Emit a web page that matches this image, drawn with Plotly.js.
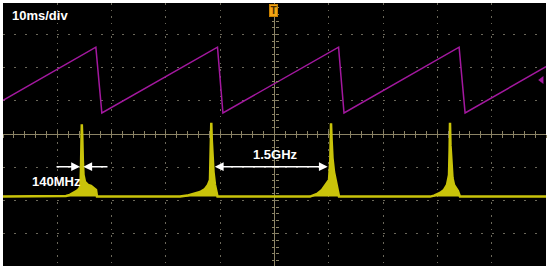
<!DOCTYPE html>
<html>
<head>
<meta charset="utf-8">
<script src="https://cdn.plot.ly/plotly-3.0.1.min.js"></script>
<style>
  html, body { margin: 0; padding: 0; background: #ffffff; }
  #plot { width: 550px; height: 271px; }
</style>
</head>
<body>
<div id="plot"></div>
<script>
// Channel 1 (magenta): sawtooth sweep, time in ms, level in divisions
const sweepTime = [-50, -32.9, -31.8, -10.5, -9.5, 11.8, 12.8, 34.0, 35.1, 50];
const sweepLevel = [1.02, 2.62, 0.64, 2.62, 0.64, 2.62, 0.64, 2.62, 0.64, 2.03];

// Channel 2 (yellow): detected spectrum, one spike per sweep
const specTime = [
  -50,
  -39.5, -38.4, -37.7, -36.9, -36.4, -36.0, -35.73, -35.64, -35.54, -35.49,
  -35.41, -35.30, -35.17, -34.9, -34.35, -33.8, -33.24, -32.87, -32.69,
  -17.4, -16.1, -14.6, -13.7, -12.8, -12.25, -11.88, -11.73, -11.64,
  -11.55, -11.42, -11.23, -10.96, -10.68, -10.5,
  6.54, 7.83, 8.75, 9.48, 10.04, 10.28, 10.41, 10.52, 10.68, 10.96,
  11.33, 11.69, 11.88,
  28.64, 29.37, 30.48, 31.22, 31.77, 32.14, 32.25, 32.32, 32.41, 32.56,
  32.78, 33.06, 33.43, 33.79, 34.16,
  50
];
const specLevel = [
  -1.88,
  -1.88, -1.86, -1.83, -1.77, -1.71, -1.65, -1.56, -1.08, -0.18, 0.30,
  -0.03, -0.78, -1.23, -1.44, -1.53, -1.56, -1.62, -1.68, -1.88,
  -1.88, -1.85, -1.77, -1.74, -1.65, -1.53, -1.38, -0.48, 0.34,
  -0.18, -0.78, -1.14, -1.53, -1.74, -1.88,
  -1.88, -1.80, -1.68, -1.53, -1.38, -0.78, 0.33, -0.18, -0.72, -1.14,
  -1.44, -1.65, -1.88,
  -1.88, -1.85, -1.77, -1.68, -1.53, -1.23, -0.48, 0.34, -0.33, -0.93,
  -1.32, -1.53, -1.62, -1.71, -1.88,
  -1.88
];

// Channel 1 level marker on the right edge
const markerTime = [49.2];
const markerLevel = [1.63];

const xRange = [-50, 50];
const yRange = [-3.97, 3.95];

const MAGENTA = "#a3189f";
const YELLOW = "#c9c30a";
const GRID = "#6a675a";
const CROSS = "#8c8466";
const LABEL_FONT = { family: "Liberation Sans, Arial, sans-serif", size: 13, color: "#ffffff", weight: "bold" };

const traceSpec = {
  x: specTime,
  y: specLevel,
  type: "scatter",
  mode: "lines",
  fill: "toself",
  fillcolor: YELLOW,
  line: { color: YELLOW, width: 2.5 },
  hoverinfo: "skip",
};

const traceSweep = {
  x: sweepTime,
  y: sweepLevel,
  type: "scatter",
  mode: "lines",
  line: { color: MAGENTA, width: 1.5 },
  hoverinfo: "skip",
};

const traceMarker = {
  x: markerTime,
  y: markerLevel,
  type: "scatter",
  mode: "markers",
  marker: { symbol: "triangle-left", size: 7, color: MAGENTA },
  cliponaxis: false,
  hoverinfo: "skip",
};

// empty traces so the centre tick axes get drawn
const tickTraceA = { x: [null], y: [null], xaxis: "x2", yaxis: "y2", type: "scatter", mode: "lines", hoverinfo: "skip" };
const tickTraceB = { x: [null], y: [null], xaxis: "x3", yaxis: "y3", type: "scatter", mode: "lines", hoverinfo: "skip" };

const centreX = (side) => ({
  overlaying: "x",
  anchor: "free",
  position: 0.501,
  range: xRange,
  tick0: 0,
  dtick: 2,
  ticks: side,
  ticklen: 3,
  tickwidth: 1,
  tickcolor: CROSS,
  showticklabels: false,
  showgrid: false,
  zeroline: false,
  showline: false,
  fixedrange: true,
});
const centreY = (side) => ({
  overlaying: "y",
  anchor: "free",
  position: 0.5,
  range: yRange,
  tick0: 0,
  dtick: 0.2,
  ticks: side,
  ticklen: 3,
  tickwidth: 1,
  tickcolor: CROSS,
  showticklabels: false,
  showgrid: false,
  zeroline: false,
  showline: false,
  fixedrange: true,
});

const layout = {
  width: 550,
  height: 271,
  margin: { l: 3, r: 4, t: 3, b: 5 },
  paper_bgcolor: "#ffffff",
  plot_bgcolor: "#000000",
  showlegend: false,
  xaxis: {
    range: xRange,
    tick0: 0,
    dtick: 10,
    showgrid: true,
    gridcolor: GRID,
    gridwidth: 1,
    griddash: "1.5px,5.14px",
    zeroline: true,
    zerolinecolor: CROSS,
    zerolinewidth: 1,
    showticklabels: false,
    ticks: "",
    showline: false,
    fixedrange: true,
  },
  yaxis: {
    range: yRange,
    tick0: 0,
    dtick: 1,
    showgrid: true,
    gridcolor: GRID,
    gridwidth: 1,
    griddash: "2px,8.86px",
    zeroline: true,
    zerolinecolor: CROSS,
    zerolinewidth: 1,
    showticklabels: false,
    ticks: "",
    showline: false,
    fixedrange: true,
  },
  xaxis2: centreX("outside"),
  xaxis3: centreX("inside"),
  yaxis2: centreY("outside"),
  yaxis3: centreY("inside"),
  annotations: [
    {
      x: -48.7, y: 3.56, xref: "x", yref: "y",
      xanchor: "left", yanchor: "middle",
      text: "10ms/div", showarrow: false, font: LABEL_FONT,
    },
    {
      x: -40.1, y: -1.44, xref: "x", yref: "y",
      xanchor: "center", yanchor: "middle",
      text: "140MHz", showarrow: false, font: LABEL_FONT,
    },
    {
      x: 0.22, y: -0.61, xref: "x", yref: "y",
      xanchor: "center", yanchor: "middle",
      text: "1.5GHz", showarrow: false, font: LABEL_FONT,
    },
    {
      x: -35.82, y: -0.98, ax: -40.42, ay: -0.98,
      xref: "x", yref: "y", axref: "x", ayref: "y",
      text: "", showarrow: true, arrowhead: 2, arrowsize: 1.1, arrowwidth: 1.6,
      arrowcolor: "#ffffff", standoff: 0, startstandoff: 0,
    },
    {
      x: -35.21, y: -0.98, ax: -30.48, ay: -0.98,
      xref: "x", yref: "y", axref: "x", ayref: "y",
      text: "", showarrow: true, arrowhead: 2, arrowsize: 1.1, arrowwidth: 1.6,
      arrowcolor: "#ffffff", standoff: 0, startstandoff: 0,
    },
    {
      x: 9.8, y: -0.98, ax: -11.27, ay: -0.98,
      xref: "x", yref: "y", axref: "x", ayref: "y",
      text: "", showarrow: true, arrowhead: 2, startarrowhead: 2, arrowside: "end+start",
      arrowsize: 1.1, startarrowsize: 1.1, arrowwidth: 1.6,
      arrowcolor: "#ffffff", standoff: 0, startstandoff: 0,
    },
    {
      x: -0.1, y: 3.72, xref: "x", yref: "y",
      xanchor: "center", yanchor: "middle",
      text: "<b>T</b>", showarrow: false,
      font: { family: "Liberation Sans, Arial, sans-serif", size: 10, color: "#4a2c00" },
      bgcolor: "#f2a414", bordercolor: "#c88000", borderwidth: 1, borderpad: 0,
      width: 7, height: 11,
    },
  ],
};

Plotly.newPlot(
  "plot",
  [traceSpec, traceSweep, traceMarker, tickTraceA, tickTraceB],
  layout,
  { displayModeBar: false, staticPlot: true },
);
</script>
</body>
</html>
